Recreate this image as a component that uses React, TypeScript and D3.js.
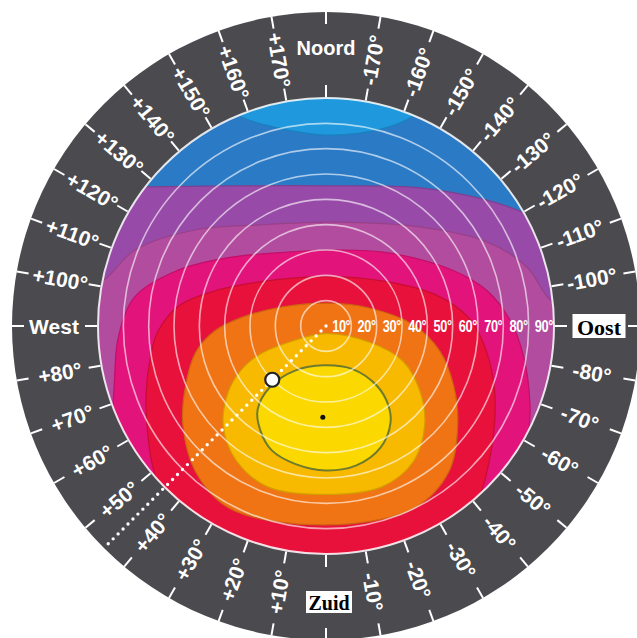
import React from "react";
import * as d3 from "d3";

const WIDTH = 637;
const HEIGHT = 638;
const CX = 326;
const CY = 326;
const R_DISC = 228;
const R_OUT = 314;

// Azimuth values: 0 = Zuid, + = West, - = Oost, 180 = Noord
const azimuthValues = [
  -170, -160, -150, -140, -130, -120, -110, -100, -90, -80, -70, -60, -50, -40, -30, -20, -10, 0,
  10, 20, 30, 40, 50, 60, 70, 80, 90, 100, 110, 120, 130, 140, 150, 160, 170, 180,
];
const cardinalNames: Record<string, string> = { "180": "Noord", "90": "West", "-90": "Oost", "0": "Zuid" };

// Tilt rings (degrees)
const tiltValues = [10, 20, 30, 40, 50, 60, 70, 80, 90];

// Contours in tilt-degree units (x to the right = east, y downwards = south)
const capBoundary = [[-45, -95], [-34.7, -83.3], [-19, -78.2], [0, -75.4], [20.5, -77.4], [35, -83.3], [45, -95]];
const purpleBoundary = [[-100, -55], [-71.4, -54.9], [-38, -55.3], [0, -55.3], [37, -54.5], [63.5, -49.7], [78.5, -44.6], [100, -35]];
const mauveBoundary = [[-100, -12], [-87.6, -18.2], [-75.4, -30], [-51.7, -37.9], [-26, -39.9], [3.5, -41], [37, -39.1], [63.5, -33.2], [79.3, -23.3], [88.4, -10.3], [100, -3]];
const magentaContour = [[3.5, -30], [24, -29], [50, -22], [63.5, -14], [72.5, -2.5], [78, 12], [80.5, 30.5], [80, 41], [74.5, 59], [64.5, 74.5], [41, 96], [0, 108], [-42, 96], [-69.5, 72.5], [-81, 57], [-84, 41], [-83.5, 21.5], [-82, 4.5], [-75.5, -11.5], [-58.5, -22], [-38.5, -27], [-18, -29]];
const redContour = [[0, -19.5], [24, -17.5], [44, -12], [57, -2.5], [63.5, 10.5], [66.5, 25], [66.5, 39], [64.5, 53], [60, 68.5], [49, 82.5], [29, 94], [0, 100], [-30, 94], [-50, 82.5], [-63.5, 68.5], [-68.5, 55], [-70.5, 41], [-71, 27], [-69.5, 13.5], [-66.5, 2.5], [-58, -8], [-45, -13.5], [-25.5, -17.5]];
const orangeContour = [[1, -9], [17.5, -7], [34.5, -0.5], [45, 10], [50.5, 24], [52, 39], [48.5, 57.5], [34.5, 72], [0, 78.5], [-38, 72], [-51.5, 57.5], [-56.5, 39], [-55.5, 24], [-51.5, 10.5], [-44, 2], [-33, -3.5], [-17.5, -7.5]];
const goldContour = [[0, 3], [17.5, 6.5], [30.5, 14], [37, 25.5], [39, 38.5], [34.5, 53.5], [22, 63.5], [0, 66.5], [-23, 63.5], [-35.5, 53], [-40.5, 40], [-39.5, 29], [-35.5, 20], [-27.5, 12], [-13.5, 6]];
const yellowContour = [[-1, 15.5], [10.5, 17], [20, 23.5], [24.5, 31], [25.5, 38], [21.5, 48], [12, 55], [0, 57], [-12, 54.5], [-21.5, 49], [-26, 41], [-27, 33], [-22, 24], [-12, 17.5]];

// Orientation example: azimuth +45°, tilt 30°; optimum: azimuth 2°, tilt 36°
const examplePoint = { azimuth: 45, tilt: 30 };
const optimumPoint = { azimuth: 2, tilt: 36 };

const COLORS = {
  ring: "#4a4a4f",
  blue: "#2a7ac6",
  cap: "#1f98dd",
  purple: "#984aa8",
  mauve: "#b24c9e",
  magenta: "#e2137a",
  red: "#e8113b",
  orange: "#f07414",
  gold: "#f8ba00",
  yellow: "#fbd900",
};

export default function App() {
  const x = d3.scaleLinear().domain([-90, 90]).range([CX - R_DISC, CX + R_DISC]);
  const y = d3.scaleLinear().domain([-90, 90]).range([CY - R_DISC, CY + R_DISC]);
  const r = d3.scaleLinear().domain([0, 90]).range([0, R_DISC]);
  const toPx = (p: number[]) => [x(p[0]), y(p[1])] as [number, number];

  const closedPath = (pts: number[][]) =>
    d3.line().curve(d3.curveCatmullRomClosed.alpha(0.5))(pts.map(toPx)) as string;
  const openPath = (pts: number[][], side: number) => {
    const l = d3.line().curve(d3.curveCatmullRom.alpha(0.5))(pts.map(toPx)) as string;
    const f = pts[0];
    const last = pts[pts.length - 1];
    const farY = y(side * 125);
    return `${l}L${x(last[0])},${farY}L${x(f[0])},${farY}Z`;
  };

  const layers = [
    { d: openPath(capBoundary, -1), fill: COLORS.cap },
    { d: openPath(purpleBoundary, 1), fill: COLORS.purple },
    { d: openPath(mauveBoundary, 1), fill: COLORS.mauve },
    { d: closedPath(magentaContour), fill: COLORS.magenta },
    { d: closedPath(redContour), fill: COLORS.red },
    { d: closedPath(orangeContour), fill: COLORS.orange },
    { d: closedPath(goldContour), fill: COLORS.gold },
  ];

  const polar = (az: number, rad: number) => {
    const a = (az * Math.PI) / 180;
    return [CX - rad * Math.sin(a), CY + rad * Math.cos(a)];
  };

  const exA = polar(examplePoint.azimuth, 0);
  const exB = polar(examplePoint.azimuth, R_OUT - 3);
  const exP = polar(examplePoint.azimuth, r(examplePoint.tilt));
  const opP = polar(optimumPoint.azimuth, r(optimumPoint.tilt));

  const sansFont = "'Liberation Sans', Arial, Helvetica, sans-serif";
  const serifFont = "'Liberation Serif', 'Times New Roman', serif";

  return (
    <svg
      width={WIDTH}
      height={HEIGHT}
      style={{ position: "absolute", left: 0, top: 0, background: "#fff" }}
    >
      <defs>
        <clipPath id="disc">
          <circle cx={CX} cy={CY} r={R_DISC} />
        </clipPath>
      </defs>
      <circle cx={CX} cy={CY} r={R_OUT} fill={COLORS.ring} />

      <g clipPath="url(#disc)">
        <circle cx={CX} cy={CY} r={R_DISC} fill={COLORS.blue} />
        {layers.map((l, i) => (
          <path
            key={i}
            d={l.d}
            fill={l.fill}
            stroke={d3.color(l.fill)!.darker(0.45).formatHex()}
            strokeWidth={1.2}
          />
        ))}
        <path d={closedPath(yellowContour)} fill={COLORS.yellow} stroke="#6e7a2c" strokeWidth={2} />
      </g>

      {tiltValues.map((t) => (
        <circle
          key={t}
          cx={CX}
          cy={CY}
          r={r(t)}
          fill="none"
          stroke="#ffffff"
          strokeOpacity={t === 90 ? 0.85 : 0.62}
          strokeWidth={t === 90 ? 2 : 1.6}
        />
      ))}

      {tiltValues.map((t) => (
        <text
          key={"tl" + t}
          transform={`translate(${CX + r(t) - 1},${CY + 6}) scale(0.8,1)`}
          textAnchor="end"
          fill="#fff"
          fontFamily={sansFont}
          fontWeight="bold"
          fontSize={16}
          letterSpacing={-0.5}
        >
          {t}°
        </text>
      ))}

      {/* azimuth ticks and labels */}
      {azimuthValues.map((az) => {
        const [ix1, iy1] = polar(az, R_DISC + 1);
        const [ix2, iy2] = polar(az, R_DISC + 13);
        const [ox1, oy1] = polar(az, R_OUT - 12);
        const [ox2, oy2] = polar(az, R_OUT);
        const name = cardinalNames[String(az)];
        const rad = (az * Math.PI) / 180;
        const theta = (Math.atan2(Math.cos(rad), -Math.sin(rad)) * 180) / Math.PI;
        const rot = az > 0 && az < 180 ? theta + 180 : theta;
        let label: React.ReactNode;
        if (name === "Noord" || name === "West") {
          const [lx, ly] = polar(az, name === "Noord" ? 278 : 272);
          label = (
            <text x={lx} y={ly} textAnchor="middle" dominantBaseline="central" fill="#fff" fontFamily={sansFont} fontWeight="bold" fontSize={name === "West" ? 21 : 20}>
              {name}
            </text>
          );
        } else if (name === "Oost" || name === "Zuid") {
          const isOost = name === "Oost";
          const [lx0, ly0] = polar(az, isOost ? 273 : 276);
          const lx = lx0 + (isOost ? 0 : 3);
          const ly = ly0;
          const bw = isOost ? 53 : 46;
          const bh = isOost ? 24 : 22;
          label = (
            <g>
              <rect x={lx - bw / 2} y={ly - bh / 2} width={bw} height={bh} fill="#fff" />
              <text x={lx} y={ly + 1} textAnchor="middle" dominantBaseline="central" fill="#000" fontFamily={serifFont} fontWeight="bold" fontSize={isOost ? 22 : 20}>
                {name}
              </text>
            </g>
          );
        } else {
          const [lx, ly] = polar(az, 270);
          const txt = (az > 0 ? "+" : "") + az + "°";
          label = (
            <text
              x={0}
              y={0}
              transform={`translate(${lx},${ly}) rotate(${rot})`}
              textAnchor="middle"
              dominantBaseline="central"
              fill="#fff"
              fontFamily={sansFont}
              fontWeight="bold"
              fontSize={21}
            >
              {txt}
            </text>
          );
        }
        return (
          <g key={az}>
            <line x1={ix1} y1={iy1} x2={ix2} y2={iy2} stroke="#fff" strokeWidth={2} />
            <line x1={ox1} y1={oy1} x2={ox2} y2={oy2} stroke="#fff" strokeWidth={2} />
            {label}
          </g>
        );
      })}

      {/* dotted orientation line */}
      <line
        x1={exA[0]}
        y1={exA[1]}
        x2={exB[0]}
        y2={exB[1]}
        stroke="#fff"
        strokeWidth={3.4}
        strokeLinecap="round"
        strokeDasharray="0 7"
      />
      <circle cx={exP[0]} cy={exP[1]} r={7} fill="#fff" stroke="#222" strokeWidth={2.2} />
      <circle cx={opP[0]} cy={opP[1]} r={2.5} fill="#111" />
    </svg>
  );
}
